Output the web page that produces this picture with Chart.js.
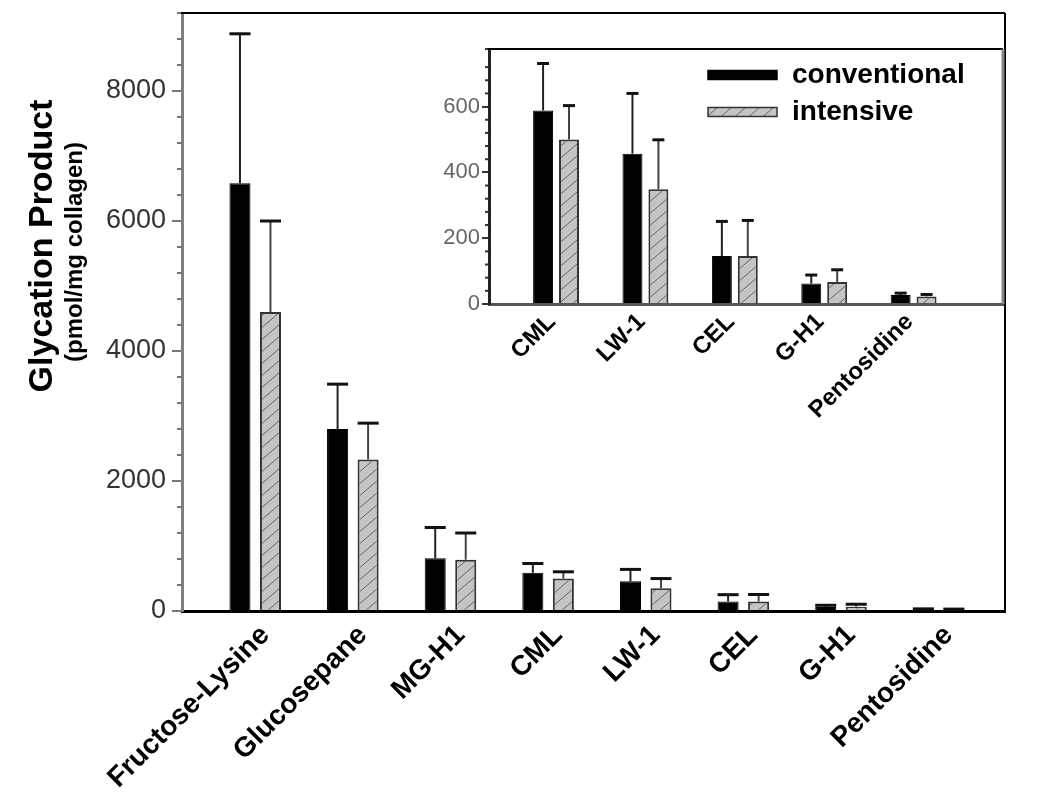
<!DOCTYPE html>
<html>
<head>
<meta charset="utf-8">
<script src="https://cdn.jsdelivr.net/npm/chart.js@4.4.0/dist/chart.umd.min.js"></script>
<style>
  body { margin: 0; background: #fff; }
  #wrap { position: relative; width: 1050px; height: 794px; }
  #main { position: absolute; left: 0; top: 0; }
  #inset { position: absolute; left: 430px; top: 30px; }
</style>
</head>
<body>
<div id="wrap">
  <canvas id="main" width="1050" height="794"></canvas>
  <canvas id="inset" width="620" height="410"></canvas>
</div>
<script>
'use strict'

var categories = ['Fructose-Lysine', 'Glucosepane', 'MG-H1', 'CML', 'LW-1', 'CEL', 'G-H1', 'Pentosidine'];
var conventional = [6580, 2800, 810, 588, 457, 146, 62, 27];
var conventionalErr = [8880, 3490, 1285, 731, 640, 251, 88, 33];
var intensive = [4600, 2330, 790, 500, 349, 146, 67, 23];
var intensiveErr = [6000, 2890, 1200, 603, 499, 254, 104, 29];
var mainTicks = [0, 2000, 4000, 6000, 8000];
var insetTicks = [0, 200, 400, 600];
var insetFrom = 3; // the inset repeats CML .. Pentosidine

var FONT = '"Liberation Sans", Arial, Helvetica, sans-serif';
Chart.defaults.font.family = FONT;

function hatch(ctx) {
  var c = document.createElement('canvas');
  c.width = 14; c.height = 12;
  var g = c.getContext('2d');
  g.fillStyle = '#c4c4c4';
  g.fillRect(0, 0, 14, 12);
  g.strokeStyle = '#666';
  g.lineWidth = 1;
  g.beginPath();
  g.moveTo(0, 12); g.lineTo(14, 0);
  g.stroke();
  return ctx.createPattern(c, 'repeat');
}

function points(values, from) {
  return values.slice(from).map(function(v, i) { return { x: i, y: v }; });
}

function makeDatasets(ctx, from) {
  return [{
    label: 'conventional',
    data: points(conventional, from),
    errorTop: conventionalErr.slice(from),
    backgroundColor: '#000',
    borderColor: '#000',
    borderWidth: 1,
    errorColor: '#222'
  }, {
    label: 'intensive',
    data: points(intensive, from),
    errorTop: intensiveErr.slice(from),
    backgroundColor: hatch(ctx),
    borderColor: '#333',
    borderWidth: 2,
    errorColor: '#444'
  }];
}

// one sided error bars, read through the y scale
var errorBars = {
  id: 'errorBars',
  afterDatasetsDraw: function(chart, args, opts) {
    var ctx = chart.ctx, yScale = chart.scales.y;
    chart.data.datasets.forEach(function(ds, i) {
      chart.getDatasetMeta(i).data.forEach(function(bar, j) {
        var top = yScale.getPixelForValue(ds.errorTop[j]);
        var half = bar.width * opts.cap / 2;
        ctx.save();
        ctx.strokeStyle = ds.errorColor;
        ctx.lineWidth = 2;
        ctx.beginPath(); ctx.moveTo(bar.x, bar.y); ctx.lineTo(bar.x, top); ctx.stroke();
        ctx.strokeStyle = '#111';
        ctx.lineWidth = 3;
        ctx.beginPath(); ctx.moveTo(bar.x - half, top); ctx.lineTo(bar.x + half, top); ctx.stroke();
        ctx.restore();
      });
    });
  }
};

// short minor ticks on the y axis, plus top/right frame
var frame = {
  id: 'frame',
  afterDraw: function(chart, args, opts) {
    var ctx = chart.ctx, a = chart.chartArea, y = chart.scales.y;
    ctx.save();
    ctx.strokeStyle = opts.tickColor;
    ctx.lineWidth = 2;
    y.ticks.forEach(function(t) {
      if (opts.major.indexOf(t.value) >= 0) return;
      var py = y.getPixelForValue(t.value);
      ctx.beginPath(); ctx.moveTo(a.left - opts.minorLen, py); ctx.lineTo(a.left, py); ctx.stroke();
    });
    ctx.strokeStyle = '#000';
    ctx.lineWidth = 2;
    ctx.beginPath(); ctx.moveTo(a.left - 1, a.top); ctx.lineTo(a.right, a.top); ctx.stroke();
    ctx.strokeStyle = opts.rightColor;
    ctx.lineWidth = opts.rightWidth;
    ctx.beginPath(); ctx.moveTo(a.right, a.top); ctx.lineTo(a.right, a.bottom); ctx.stroke();
    ctx.restore();
  }
};

var yTitles = {
  id: 'yTitles',
  afterDraw: function(chart) {
    var ctx = chart.ctx;
    ctx.save();
    ctx.fillStyle = '#000';
    ctx.textAlign = 'center';
    ctx.textBaseline = 'middle';
    ctx.translate(43, 246);
    ctx.rotate(-Math.PI / 2);
    ctx.font = 'bold 34px ' + FONT;
    ctx.fillText('Glycation Product', 0, 0);
    ctx.restore();
    ctx.save();
    ctx.fillStyle = '#000';
    ctx.textAlign = 'center';
    ctx.textBaseline = 'middle';
    ctx.translate(75, 252);
    ctx.rotate(-Math.PI / 2);
    ctx.font = 'bold 24px ' + FONT;
    ctx.fillText('(pmol/mg collagen)', 0, 0);
    ctx.restore();
  }
};

var insetLegend = {
  id: 'insetLegend',
  afterDraw: function(chart) {
    var ctx = chart.ctx, a = chart.chartArea;
    chart.data.datasets.forEach(function(ds, i) {
      var cy = a.top + 26 + i * 37;
      var x = a.right - 295;
      ctx.save();
      ctx.fillStyle = ds.backgroundColor;
      ctx.fillRect(x, cy - 4.5, 69, 9);
      ctx.strokeStyle = ds.borderColor;
      ctx.lineWidth = 1.5;
      ctx.strokeRect(x, cy - 4.5, 69, 9);
      ctx.fillStyle = '#000';
      ctx.font = 'bold 28px ' + FONT;
      ctx.textBaseline = 'middle';
      ctx.fillText(ds.label, x + 84, cy);
      ctx.restore();
    });
  }
};

function noPadY(s, w) {
  s.width = w;
  s.paddingTop = 0;
  s.paddingBottom = 0;
}

function noPadX(s, h) {
  s.height = h;
  s.paddingLeft = 0;
  s.paddingRight = 0;
}

var mainCtx = document.getElementById('main').getContext('2d');
new Chart(mainCtx, {
  type: 'bar',
  data: { datasets: makeDatasets(mainCtx, 0) },
  options: {
    responsive: false,
    animation: false,
    categoryPercentage: 0.625,
    barPercentage: 0.69,
    layout: { padding: { top: 13, right: 45, left: 0, bottom: 0 } },
    plugins: {
      legend: { display: false },
      tooltip: { enabled: false },
      errorBars: { cap: 1 },
      frame: { major: mainTicks, minorLen: 5, tickColor: '#777', rightColor: '#000', rightWidth: 2 }
    },
    scales: {
      x: {
        type: 'linear',
        offset: false,
        min: -0.75,
        max: 7.68,
        border: { color: '#000', width: 3 },
        grid: { display: false, drawTicks: false },
        afterBuildTicks: function(s) {
          s.ticks = categories.map(function(c, i) { return { value: i }; });
        },
        ticks: {
          autoSkip: false,
          minRotation: 45,
          maxRotation: 45,
          padding: 8,
          labelOffset: 10,
          color: '#000',
          font: { size: 28, weight: 'bold' },
          callback: function(v) { return categories[v]; }
        },
        afterFit: function(s) { noPadX(s, 794 - 611); }
      },
      y: {
        min: 0,
        max: 9200,
        border: { color: '#808080', width: 3 },
        grid: {
          drawOnChartArea: false,
          tickLength: 10,
          lineWidth: 2,
          tickColor: function(c) {
            return c.tick && mainTicks.indexOf(c.tick.value) >= 0 ? '#777' : 'rgba(0,0,0,0)';
          }
        },
        ticks: {
          autoSkip: false,
          stepSize: 400,
          padding: 6,
          color: '#333',
          font: { size: 27 },
          callback: function(v) { return mainTicks.indexOf(v) >= 0 ? String(v) : ''; }
        },
        afterFit: function(s) { noPadY(s, 182); }
      }
    }
  },
  plugins: [errorBars, frame, yTitles]
});

var insetCtx = document.getElementById('inset').getContext('2d');
new Chart(insetCtx, {
  type: 'bar',
  data: { datasets: makeDatasets(insetCtx, insetFrom) },
  options: {
    responsive: false,
    animation: false,
    categoryPercentage: 0.58,
    barPercentage: 0.77,
    layout: { padding: { top: 19, right: 47, left: 0, bottom: 0 } },
    plugins: {
      legend: { display: false },
      tooltip: { enabled: false },
      errorBars: { cap: 0.6 },
      frame: { major: insetTicks, minorLen: 4, tickColor: '#333', rightColor: '#888', rightWidth: 3 }
    },
    scales: {
      x: {
        type: 'linear',
        offset: false,
        min: -0.75,
        max: 5.0,
        border: { color: '#555', width: 3 },
        grid: { display: false, drawTicks: false },
        afterBuildTicks: function(s) {
          s.ticks = categories.slice(insetFrom).map(function(c, i) { return { value: i }; });
        },
        ticks: {
          autoSkip: false,
          minRotation: 45,
          maxRotation: 45,
          padding: 4,
          labelOffset: -4,
          color: '#000',
          font: { size: 24, weight: 'bold' },
          callback: function(v) { return categories[insetFrom + v]; }
        },
        afterFit: function(s) { noPadX(s, 410 - 274); }
      },
      y: {
        min: 0,
        max: 775,
        border: { color: '#222', width: 3 },
        grid: {
          drawOnChartArea: false,
          tickLength: 7,
          lineWidth: 2,
          tickColor: function(c) {
            return c.tick && insetTicks.indexOf(c.tick.value) >= 0 ? '#333' : 'rgba(0,0,0,0)';
          }
        },
        ticks: {
          autoSkip: false,
          stepSize: 40,
          padding: 2,
          color: '#666',
          font: { size: 22 },
          callback: function(v) { return insetTicks.indexOf(v) >= 0 ? String(v) : ''; }
        },
        afterFit: function(s) { noPadY(s, 59); }
      }
    }
  },
  plugins: [errorBars, frame, insetLegend]
});
</script>
</body>
</html>
